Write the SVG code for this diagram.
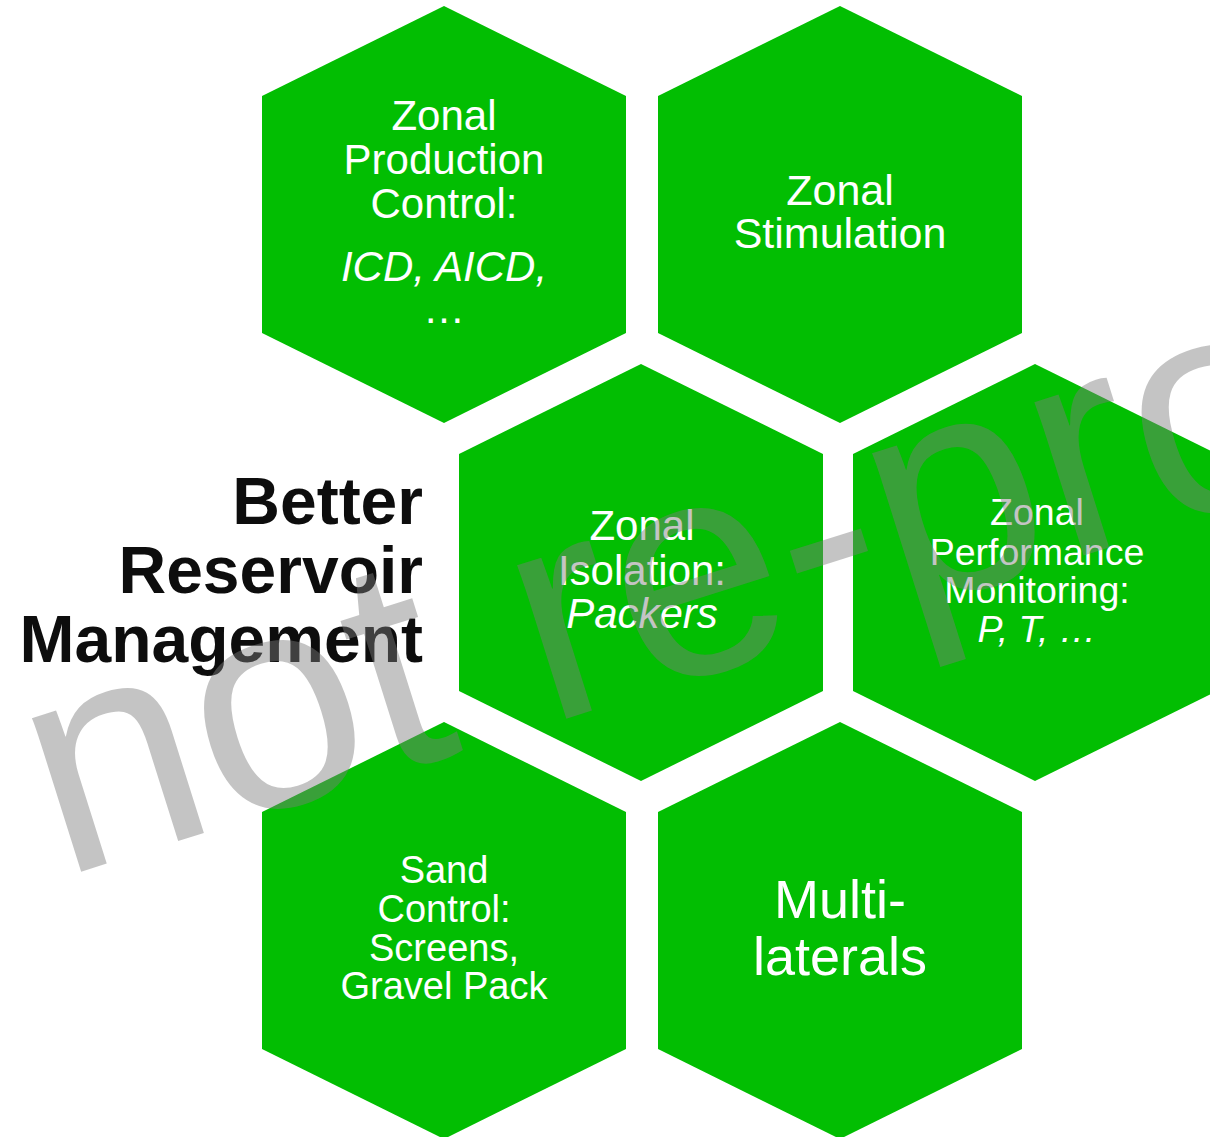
<svg xmlns="http://www.w3.org/2000/svg" xmlns:xlink="http://www.w3.org/1999/xlink" width="1210" height="1137" viewBox="0 0 1210 1137">
  <style>
    .hex { fill: #02be02; }
    .lbl { font-family: "Liberation Sans", Arial, sans-serif; fill: #ffffff; text-anchor: middle; }
    .it { font-style: italic; }
    .title { font-family: "Liberation Sans", Arial, sans-serif; font-weight: bold; font-size: 66px; fill: #0d0d0d; text-anchor: end; }
    .mark { font-family: "Liberation Sans", Arial, sans-serif; font-size: 305px; fill: #7d7d7d; fill-opacity: 0.45; }
  </style>
  <defs>
    <!-- pointy-top hexagon, origin at the top vertex -->
    <path id="hex" d="M0,0 L182,90 L182,327 L0,417 L-182,327 L-182,90 Z"/>
  </defs>

  <rect width="1210" height="1137" fill="#ffffff"/>

  <g id="title">
    <text class="title" x="423" y="524">Better</text>
    <text class="title" x="423" y="593">Reservoir</text>
    <text class="title" x="423" y="662">Management</text>
  </g>

  <g id="node-production-control">
    <use xlink:href="#hex" href="#hex" class="hex" x="444" y="6"/>
    <text class="lbl" font-size="42" x="444" y="130">Zonal</text>
    <text class="lbl" font-size="42" x="444" y="174">Production</text>
    <text class="lbl" font-size="42" x="444" y="218">Control:</text>
    <text class="lbl it" font-size="42" x="444" y="281">ICD, AICD,</text>
    <text class="lbl" font-size="42" x="444" y="323">…</text>
  </g>

  <g id="node-stimulation">
    <use xlink:href="#hex" href="#hex" class="hex" x="840" y="6"/>
    <text class="lbl" font-size="43" x="840" y="205">Zonal</text>
    <text class="lbl" font-size="43" x="840" y="248">Stimulation</text>
  </g>

  <g id="node-isolation">
    <use xlink:href="#hex" href="#hex" class="hex" x="641" y="364"/>
    <text class="lbl" font-size="42" x="642" y="540">Zonal</text>
    <text class="lbl" font-size="42" x="642" y="585">Isolation:</text>
    <text class="lbl it" font-size="42" x="642" y="628">Packers</text>
  </g>

  <g id="node-monitoring">
    <use xlink:href="#hex" href="#hex" class="hex" x="1035" y="364"/>
    <text class="lbl" font-size="37.5" x="1037" y="525">Zonal</text>
    <text class="lbl" font-size="37.5" x="1037" y="565">Performance</text>
    <text class="lbl" font-size="37.5" x="1037" y="603">Monitoring:</text>
    <text class="lbl it" font-size="37.5" x="1037" y="642">P, T, …</text>
  </g>

  <g id="node-sand-control">
    <use xlink:href="#hex" href="#hex" class="hex" x="444" y="722"/>
    <text class="lbl" font-size="38" x="444" y="883">Sand</text>
    <text class="lbl" font-size="38" x="444" y="922">Control:</text>
    <text class="lbl" font-size="38" x="444" y="961">Screens,</text>
    <text class="lbl" font-size="38" x="444" y="999">Gravel Pack</text>
  </g>

  <g id="node-multilaterals">
    <use xlink:href="#hex" href="#hex" class="hex" x="840" y="722"/>
    <text class="lbl" font-size="54" x="840" y="918">Multi-</text>
    <text class="lbl" font-size="54" x="840" y="975">laterals</text>
  </g>

  <g id="connectors"/>

  <g id="watermark" transform="translate(61 878) rotate(-17.5)">
    <text class="mark" x="0" y="0">not re-pro</text>
  </g>
</svg>
